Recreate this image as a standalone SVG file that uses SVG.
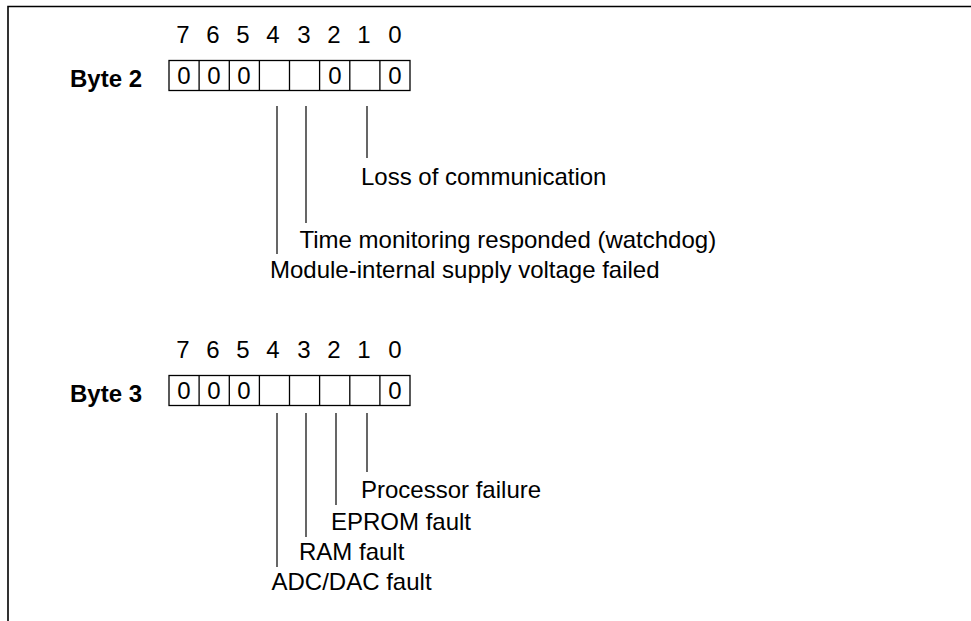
<svg xmlns="http://www.w3.org/2000/svg" width="971" height="621" viewBox="0 0 971 621">
<style>
text{font-family:"Liberation Sans",Arial,sans-serif;font-size:24px;fill:#000}
.b{font-weight:bold}
.m{text-anchor:middle}
.frame{fill:none;stroke:#000;stroke-width:1.6}
.box{fill:#fff;stroke:#000;stroke-width:1.3}
.con line{stroke:#000;stroke-width:1.2}
</style>
<rect width="971" height="621" fill="#fff"/>
<path class="frame" d="M8,621 V6.5 H971"/>
<g id="byte2">
<text class="b" x="70" y="87">Byte 2</text>
<g class="m">
<text x="183" y="43">7</text><text x="213" y="43">6</text><text x="243" y="43">5</text><text x="273" y="43">4</text>
<text x="304" y="43">3</text><text x="334" y="43">2</text><text x="364" y="43">1</text><text x="395" y="43">0</text>
</g>
<rect class="box" x="169" y="60.5" width="241" height="30"/>
<path class="box" d="M199.1,60.5V90.5M229.3,60.5V90.5M259.4,60.5V90.5M289.5,60.5V90.5M319.6,60.5V90.5M349.8,60.5V90.5M379.9,60.5V90.5"/>
<g class="m">
<text x="184" y="84">0</text><text x="214" y="84">0</text><text x="244" y="84">0</text><text x="335" y="84">0</text><text x="395" y="84">0</text>
</g>
</g>
<g id="byte3">
<text class="b" x="70" y="402">Byte 3</text>
<g class="m">
<text x="183" y="358">7</text><text x="213" y="358">6</text><text x="243" y="358">5</text><text x="273" y="358">4</text>
<text x="304" y="358">3</text><text x="334" y="358">2</text><text x="364" y="358">1</text><text x="395" y="358">0</text>
</g>
<rect class="box" x="169" y="375.5" width="241" height="30"/>
<path class="box" d="M199.1,375.5V405.5M229.3,375.5V405.5M259.4,375.5V405.5M289.5,375.5V405.5M319.6,375.5V405.5M349.8,375.5V405.5M379.9,375.5V405.5"/>
<g class="m">
<text x="184" y="399">0</text><text x="214" y="399">0</text><text x="244" y="399">0</text><text x="395" y="399">0</text>
</g>
</g>
<g id="labels2">
<text id="loss" x="361" y="185">Loss of communication</text>
<text id="time" x="299.5" y="248">Time monitoring responded (watchdog)</text>
<text id="module" x="270" y="278">Module-internal supply voltage failed</text>
</g>
<g id="labels3">
<text id="proc" x="361" y="498">Processor failure</text>
<text id="eprom" x="331" y="530">EPROM fault</text>
<text id="ram" x="299" y="560">RAM fault</text>
<text id="adc" x="271.5" y="590">ADC/DAC fault</text>
</g>
<g class="con" id="connectors">
<line x1="277" y1="106" x2="277" y2="254"/>
<line x1="306" y1="106" x2="306" y2="223"/>
<line x1="367" y1="106" x2="367" y2="158"/>
<line x1="277" y1="413" x2="277" y2="567"/>
<line x1="306" y1="413" x2="306" y2="537"/>
<line x1="336" y1="413" x2="336" y2="505"/>
<line x1="367" y1="413" x2="367" y2="472"/>
</g>
</svg>
